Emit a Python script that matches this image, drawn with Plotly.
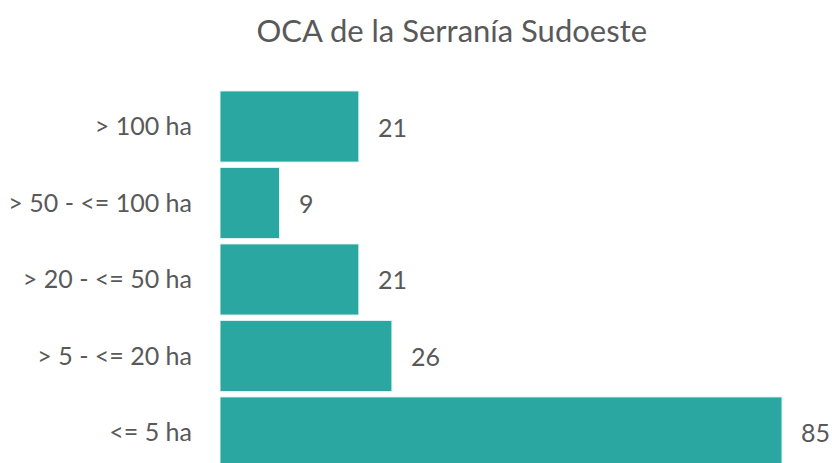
import plotly.graph_objects as go

categories = ["<= 5 ha", "> 5 - <= 20 ha", "> 20 - <= 50 ha", "> 50 - <= 100 ha", "> 100 ha"]
values = [85, 26, 21, 9, 21]
title_text = "OCA de la Serranía Sudoeste"

bar_color = "#2AA7A1"
text_color = "#595959"
font_family = "Lato, 'Open Sans', sans-serif"

fig = go.Figure()
fig.add_trace(go.Bar(
    x=values,
    y=categories,
    orientation="h",
    marker=dict(color=bar_color, line=dict(color="#E6F4F3", width=1)),
    hoverinfo="skip",
))

for c, v in zip(categories, values):
    fig.add_annotation(
        x=v, y=c, text=str(v), showarrow=False,
        xanchor="left", yanchor="middle", xshift=17,
        font=dict(family=font_family, size=25, color=text_color),
    )

fig.update_layout(
    width=832, height=463,
    margin=dict(l=220, r=0, t=80, b=0, autoexpand=False),
    paper_bgcolor="white", plot_bgcolor="white",
    bargap=0.07,
    showlegend=False,
    title=dict(
        text=title_text, x=0.543, xanchor="center", y=1 - 31 / 463, yanchor="middle",
        font=dict(family=font_family, size=31, color=text_color),
        automargin=False,
    ),
    xaxis=dict(range=[0, 92.56], visible=False, fixedrange=True, automargin=False),
    yaxis=dict(
        range=[-0.399, 4.608],
        showgrid=False, zeroline=False, showline=False, ticks="",
        ticklabelstandoff=27, automargin=False,
        tickfont=dict(family=font_family, size=25, color=text_color),
        fixedrange=True,
    ),
)

fig.write_html(
    "out.html",
    config={"displayModeBar": False},
    post_script="document.body.style.margin='0';document.body.style.overflow='hidden';",
)
